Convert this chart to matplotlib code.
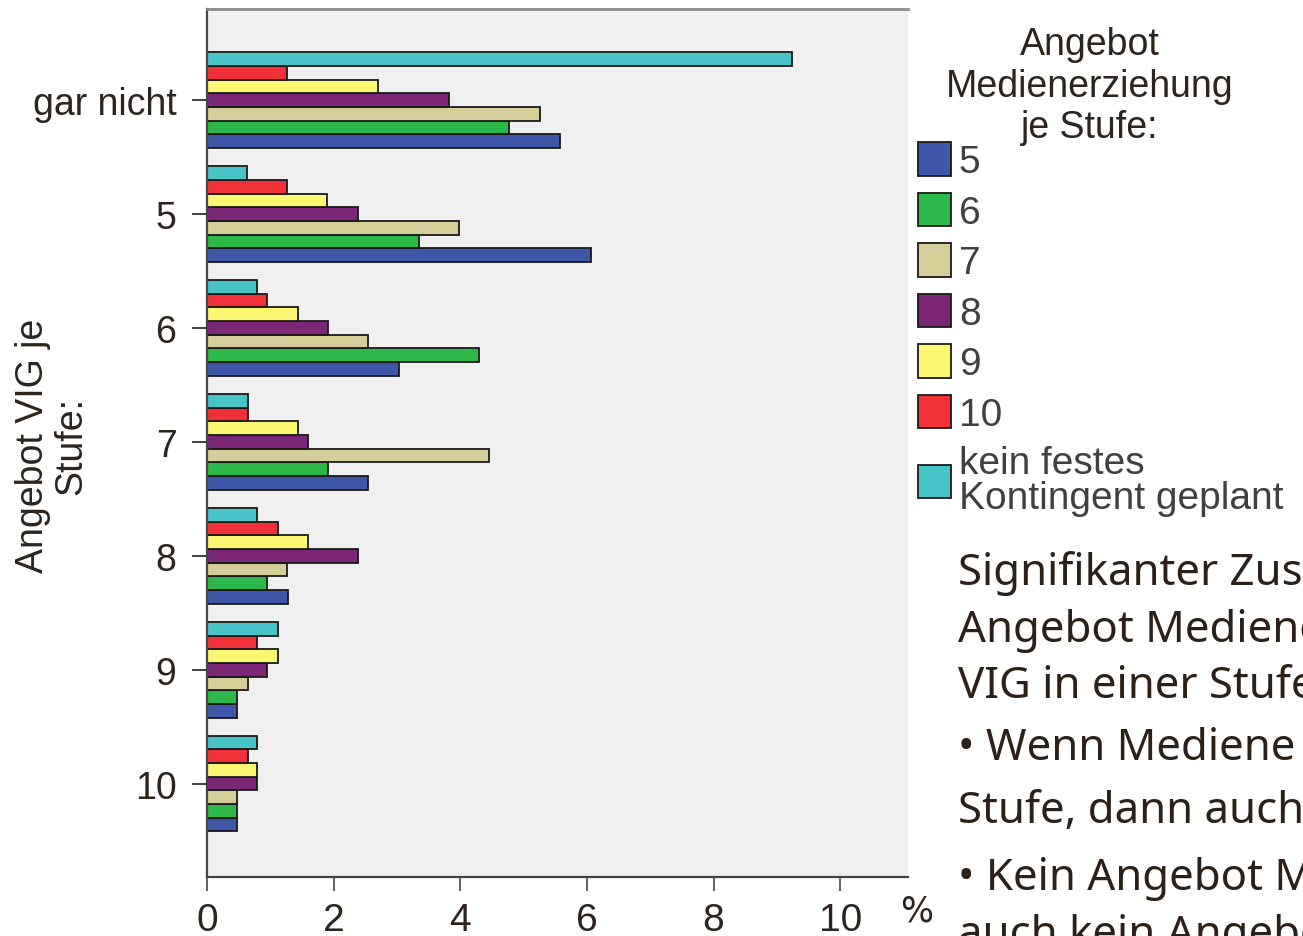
import matplotlib
matplotlib.use("Agg")
import matplotlib.pyplot as plt
import numpy as np

# Angebot VIG je Stufe (rows, top to bottom)
categories = ["gar nicht", "5", "6", "7", "8", "9", "10"]

# Angebot Medienerziehung je Stufe (series), values in %
series_names = ["5", "6", "7", "8", "9", "10", "kein festes\nKontingent geplant"]
stufe_5 = [5.58, 6.07, 3.03, 2.55, 1.28, 0.48, 0.48]
stufe_6 = [4.77, 3.34, 4.30, 1.91, 0.95, 0.48, 0.48]
stufe_7 = [5.26, 3.98, 2.55, 4.46, 1.27, 0.64, 0.48]
stufe_8 = [3.82, 2.39, 1.91, 1.59, 2.39, 0.95, 0.79]
stufe_9 = [2.70, 1.90, 1.43, 1.43, 1.59, 1.12, 0.79]
stufe_10 = [1.27, 1.27, 0.95, 0.64, 1.12, 0.79, 0.64]
kein_kontingent = [9.24, 0.63, 0.79, 0.64, 0.79, 1.12, 0.79]

x_ticks = [0, 2, 4, 6, 8, 10]

colors = ["#3f57a8", "#2db84a", "#d4cf98", "#7b2676", "#fbf771", "#f03238", "#48c3c8"]
text_col = "#2d241e"

W, H = 1303, 937
fig = plt.figure(figsize=(W / 100, H / 100), dpi=100)
fig.patch.set_facecolor("white")

ax = fig.add_axes([207 / W, 1 - 878 / H, 701 / W, 868 / H])
ax.set_facecolor("#f0f0f0")

all_series = [stufe_5, stufe_6, stufe_7, stufe_8, stufe_9, stufe_10, kein_kontingent]
pos = np.arange(len(categories))
h = 0.12
for i, (name, vals, col) in enumerate(zip(series_names, all_series, colors)):
    ax.barh(pos + (3 - i) * h, vals, height=h, color=col,
            edgecolor="#1a1a1a", linewidth=1.3, label=name)

ax.set_xlim(0, 11.07)
ax.set_ylim(6.82, -0.8)
ax.set_xticks(x_ticks)
ax.set_xticklabels([str(t) for t in x_ticks],
                   family=["Liberation Sans Narrow", "Liberation Sans"], fontsize=28)
ax.set_yticks(pos)
ax.set_yticklabels(categories, family="Liberation Sans", fontsize=27)
ax.tick_params(axis="x", direction="out", length=10, width=1.3, pad=8,
               colors="#555555", labelcolor=text_col)
ax.tick_params(axis="y", direction="out", length=11, width=1.3, pad=11,
               colors="#333333", labelcolor=text_col)

ax.spines["right"].set_visible(False)
ax.spines["top"].set_color("#8a8a8a")
ax.spines["top"].set_linewidth(2)
ax.spines["left"].set_color("#444444")
ax.spines["left"].set_linewidth(1.6)
ax.spines["bottom"].set_color("#444444")
ax.spines["bottom"].set_linewidth(1.6)

fig.text(900 / W, 1 - 912 / H, "%", fontsize=25, family="Liberation Sans Narrow",
         color=text_col, ha="left", va="center")

fig.text(52 / W, 1 - 446 / H, "Angebot VIG je\nStufe:", rotation=90,
         ha="center", va="center", multialignment="center",
         family="Liberation Sans", fontsize=27, color=text_col, linespacing=1.1)

# legend
fig.text(1090 / W, 1 - 27 / H, "Angebot\nMedienerziehung\nje Stufe:",
         ha="center", va="top", multialignment="center",
         family="Liberation Sans", fontsize=27, color=text_col, linespacing=1.2)

leg = ax.legend(loc="upper left", bbox_to_anchor=(918 / W, 1 - 143 / H),
                bbox_transform=fig.transFigure, frameon=False,
                prop={"family": "Liberation Sans", "size": 28},
                handlelength=0.85, handleheight=0.95, handletextpad=0.2,
                labelspacing=0.32, borderpad=0, borderaxespad=0)
for t in leg.get_texts():
    t.set_color("#404040")
    t.set_linespacing(0.95)

# text beside the chart, as far as it is visible on the page
side_lines = [
    ("Signifikanter Zus", 585),
    ("Angebot Mediene", 642),
    ("VIG in einer Stufe", 698),
    ("\u2022 Wenn Mediene", 760),
    ("Stufe, dann auch", 823),
    ("\u2022 Kein Angebot M", 890),
    ("auch kein Angebo", 947),
]
for txt, yb in side_lines:
    fig.text(958 / W, 1 - yb / H, txt, ha="left", va="baseline",
             family="Noto Sans", fontsize=31.5, color="#2b2118")

fig.savefig("out.png", dpi=100)
